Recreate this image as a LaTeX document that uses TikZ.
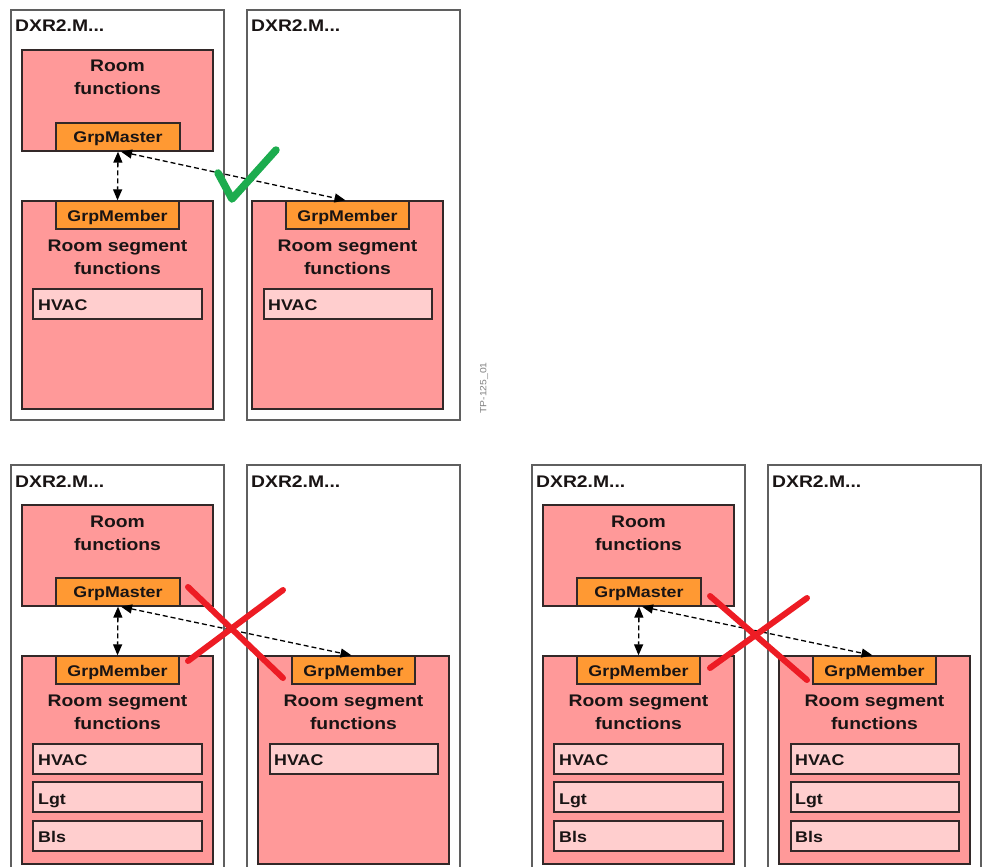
\documentclass[tikz,border=0pt]{standalone}
\usepackage{fontspec}
\setmainfont{Liberation Sans}[FakeStretch=1.15]
\usetikzlibrary{arrows.meta}
\definecolor{pinkfill}{RGB}{255,153,153}
\definecolor{lightpink}{RGB}{255,206,206}
\definecolor{orangefill}{RGB}{255,153,51}
\definecolor{devline}{RGB}{95,95,95}
\definecolor{boxline}{RGB}{50,40,40}
\definecolor{textcol}{RGB}{25,20,20}
\definecolor{okgreen}{RGB}{28,172,78}
\definecolor{nored}{RGB}{237,28,36}
\tikzset{
 dev/.style={draw=devline, line width=1.6pt, fill=white},
 func/.style={draw=boxline, line width=1.3pt, fill=pinkfill},
 grp/.style={draw=boxline, line width=1.3pt, fill=orangefill},
 app/.style={draw=boxline, line width=1.3pt, fill=lightpink},
 big/.style={font=\bfseries\fontsize{16.8}{23}\selectfont, text=textcol, inner sep=0pt, anchor=base, align=center},
 small/.style={font=\bfseries\fontsize{15.5}{18}\selectfont, text=textcol, inner sep=0pt, anchor=base},
 link/.style={dash pattern=on 5pt off 3pt, line width=1.3pt, {Triangle[length=11pt,width=9pt]}-{Triangle[length=11pt,width=9pt]}},
 okmark/.style={draw=okgreen, line width=7.5pt, line cap=round, line join=round},
 nomark/.style={draw=nored, line width=6pt, line cap=round},
}
% box from (x1,y1) to (x2,y2): #1 style, #6 name
\newcommand\bx[6]{\node[#1, inner sep=0pt, minimum width={((#4)-(#2))*1pt}, minimum height={((#5)-(#3))*1pt}] (#6) at ({((#2)+(#4))/2},{((#3)+(#5))/2}) {};}
% panel: #1 prefix, #2 right dx, #3 left extra apps, #4 right extra apps
\newcommand\panel[4]{%
 \bx{dev}{11}{10}{224}{420}{#1L}
 \bx{dev}{247}{10}{460}{420}{#1R}
 \node[big, anchor=base west] (#1Lt) at (15,32) {DXR2.M...};
 \node[big, anchor=base west] (#1Rt) at (251,32) {DXR2.M...};
 \bx{func}{22}{50}{213}{151}{#1rf}
 \node[big] (#1rft) at (117.5,95) {Room\\functions};
 \bx{grp}{56}{123}{180}{151}{#1gm}
 \node[small] (#1gmt) at (118,142) {GrpMaster};
 \bx{func}{22}{201}{213}{409}{#1ls}
 \bx{grp}{56}{201}{179}{229}{#1lgm}
 \node[small] (#1lgmt) at (117.5,221) {GrpMember};
 \node[big] (#1lst) at (117.5,274) {Room segment\\functions};
 \bx{app}{33}{289}{202}{319}{#1lh}
 \node[small, anchor=base west] (#1lht) at (38,310) {HVAC};
 \ifnum#3=1
  \bx{app}{33}{327}{202}{357}{#1ll}
  \node[small, anchor=base west] (#1llt) at (38,349) {Lgt};
  \bx{app}{33}{366}{202}{396}{#1lb}
  \node[small, anchor=base west] (#1lbt) at (38,387) {Bls};
 \fi
 \bx{func}{252+#2}{201}{443+#2}{409}{#1rs}
 \bx{grp}{286+#2}{201}{409+#2}{229}{#1rgm}
 \node[small] (#1rgmt) at (347.5+#2,221) {GrpMember};
 \node[big] (#1rst) at (347.5+#2,274) {Room segment\\functions};
 \bx{app}{264+#2}{289}{432+#2}{319}{#1rh}
 \node[small, anchor=base west] (#1rht) at (268+#2,310) {HVAC};
 \ifnum#4=1
  \bx{app}{264+#2}{327}{432+#2}{357}{#1rl}
  \node[small, anchor=base west] (#1rlt) at (268+#2,349) {Lgt};
  \bx{app}{264+#2}{366}{432+#2}{396}{#1rb}
  \node[small, anchor=base west] (#1rbt) at (268+#2,387) {Bls};
 \fi
 \draw[link] (#1gm.south) -- (#1lgm.north);
 \draw[link] ([xshift=3pt]#1gm.south) -- ([xshift=-2pt]#1rgm.north);
}
\begin{document}
\begin{tikzpicture}[x=1pt, y=-1pt]
\useasboundingbox (0,0) rectangle (983,867);
\clip (0,0) rectangle (983,867);
\fill[white] (0,0) rectangle (983,867);
% top panel
\begin{scope}
 \panel{a}{0}{0}{0}
 \coordinate (ck1) at (218,173);
 \coordinate (ck2) at (232,199);
 \coordinate (ck3) at (276,150);
 \draw[okmark] (ck1) -- (ck2) -- (ck3);
\end{scope}
\node[rotate=90, font=\fontsize{9}{10}\selectfont, text=gray] (tp) at (484,388) {TP-125\_01};
% bottom left panel
\begin{scope}[shift={(0,455)}]
 \panel{b}{6}{1}{0}
 \coordinate (bx1) at (188,132);
 \coordinate (bx2) at (283,223);
 \coordinate (bx3) at (188,206);
 \coordinate (bx4) at (283,135);
 \draw[nomark] (bx1) -- (bx2);
 \draw[nomark] (bx3) -- (bx4);
\end{scope}
% bottom right panel
\begin{scope}[shift={(521,455)}]
 \panel{c}{6}{1}{1}
 \coordinate (cx1) at (189,141);
 \coordinate (cx2) at (286,225);
 \coordinate (cx3) at (189,213);
 \coordinate (cx4) at (286,143);
 \draw[nomark] (cx1) -- (cx2);
 \draw[nomark] (cx3) -- (cx4);
\end{scope}
\end{tikzpicture}
\end{document}
